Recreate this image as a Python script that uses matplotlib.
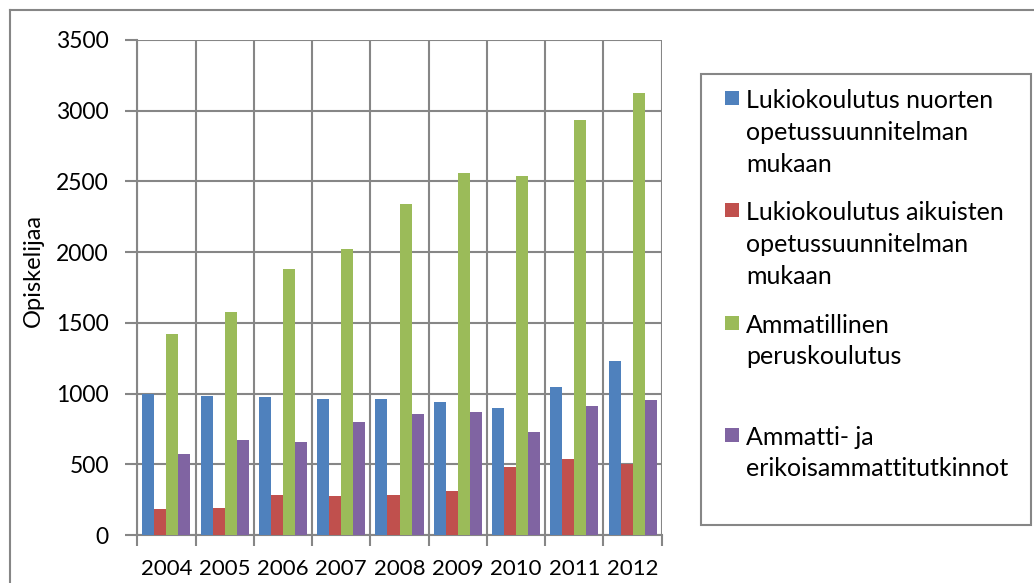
import numpy as np
import matplotlib
matplotlib.use("Agg")
import matplotlib.pyplot as plt
from matplotlib.patches import Rectangle

# data
years = ['2004', '2005', '2006', '2007', '2008', '2009', '2010', '2011', '2012']
lukio_nuoret = [995, 986, 976, 965, 965, 941, 901, 1047, 1231]
lukio_aikuiset = [182, 191, 281, 274, 281, 309, 481, 540, 500]
ammatillinen = [1420, 1578, 1880, 2024, 2342, 2559, 2535, 2934, 3125]
ammatti_erikois = [571, 672, 658, 797, 854, 870, 726, 913, 955]

labels = ['Lukiokoulutus nuorten\nopetussuunnitelman\nmukaan',
          'Lukiokoulutus aikuisten\nopetussuunnitelman\nmukaan',
          'Ammatillinen\nperuskoulutus',
          'Ammatti- ja\nerikoisammattitutkinnot']
colors = ['#4F81BD', '#C0504D', '#9BBB59', '#8064A2']
series = [lukio_nuoret, lukio_aikuiset, ammatillinen, ammatti_erikois]

W, H = 1034, 583
def fx(x):
	return x / W
def fy(y):
	return 1 - y / H

grid_c = '#868686'
font = ['Lato', 'DejaVu Sans']

fig = plt.figure(figsize=(W/100, H/100), dpi=100)
ax = fig.add_axes([fx(137.3), fy(535), fx(661.7) - fx(137.3), fy(40) - fy(535)])

x = np.arange(len(years))
bw = 0.206
for i, (vals, c) in enumerate(zip(series, colors)):
	ax.bar(x + (i - 1.5) * bw, vals, bw, color=c, zorder=3)

ax.set_xlim(-0.5, len(years) - 0.5)
ax.set_ylim(0, 3500)
ax.set_yticks(np.arange(0, 3501, 500))
ax.set_xticks(x)
ax.set_xticks(np.arange(-0.5, len(years)), minor=True)
ax.set_xticklabels(years)
ax.grid(axis='y', which='major', color=grid_c, linewidth=1.5, zorder=0)
ax.grid(axis='x', which='minor', color=grid_c, linewidth=1.5, zorder=0)
ax.tick_params(axis='x', which='major', length=0, pad=17, labelsize=16)
ax.tick_params(axis='x', which='minor', length=8, width=1.5, color=grid_c)
ax.tick_params(axis='y', length=9, width=1.5, color=grid_c, pad=11.5, labelsize=16.5)
for lab in ax.get_xticklabels() + ax.get_yticklabels():
	lab.set_family(font)
	lab.set_color('#000000')
for s in ['top', 'right']:
	ax.spines[s].set_visible(False)
for s in ['left', 'bottom']:
	ax.spines[s].set_color(grid_c)
	ax.spines[s].set_linewidth(1.5)

fig.text(fx(33), fy(270), 'Opiskelijaa', rotation=90, ha='center', va='center',
	fontsize=17, family=font)

# outer chart border (left and top visible)
fig.add_artist(plt.Line2D([fx(10), fx(10)], [fy(10), 0], color=grid_c, linewidth=1.5))
fig.add_artist(plt.Line2D([fx(10), 1], [fy(10), fy(10)], color=grid_c, linewidth=1.5))

# legend box
fig.add_artist(Rectangle((fx(701), fy(525)), fx(1031) - fx(701), fy(74) - fy(525),
	fill=False, edgecolor=grid_c, linewidth=1.5))
first_line = [98, 210, 323, 435]
line_h = 32.3
for lab, c, yc in zip(labels, colors, first_line):
	fig.add_artist(Rectangle((fx(725), fy(yc + 7)), fx(14), 14 / H, facecolor=c, edgecolor='none'))
	n = lab.count('\n')
	fig.text(fx(746), fy(yc + 9 + n * line_h), lab, ha='left', va='baseline', fontsize=18,
		family=font, linespacing=1.45)

plt.savefig('out.png', dpi=100)
